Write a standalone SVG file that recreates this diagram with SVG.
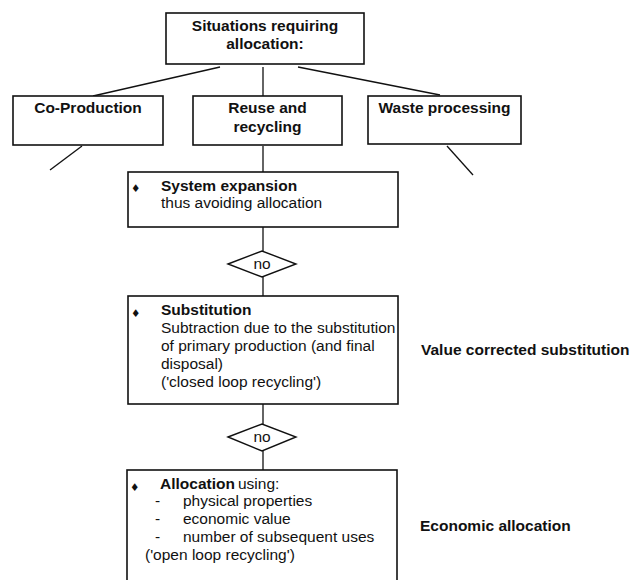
<svg xmlns="http://www.w3.org/2000/svg" width="640" height="580" viewBox="0 0 640 580">
<style>
.box{fill:#fff;stroke:#111;stroke-width:1.6}
.dia{fill:#fff;stroke:#111;stroke-width:1.4}
.con{stroke:#111;stroke-width:1.3;fill:none}
text{font-family:"Liberation Sans",Arial,sans-serif;font-size:15.5px;fill:#111}
.b{font-weight:bold}
.c{text-anchor:middle}
.bul{font-family:"DejaVu Sans",sans-serif;font-size:10.5px}
</style>
<rect width="640" height="580" fill="#fff"/>
<g id="connectors">
<line class="con" x1="220" y1="67" x2="93" y2="96"/>
<line class="con" x1="263" y1="67" x2="263" y2="96"/>
<line class="con" x1="298" y1="67" x2="440" y2="95"/>
<line class="con" x1="82" y1="146" x2="50" y2="170"/>
<line class="con" x1="263" y1="146" x2="263" y2="172"/>
<line class="con" x1="447" y1="146" x2="473" y2="175"/>
<line class="con" x1="263" y1="227" x2="263" y2="251"/>
<line class="con" x1="263" y1="277" x2="263" y2="296"/>
<line class="con" x1="263" y1="404" x2="263" y2="424"/>
<line class="con" x1="263" y1="451" x2="263" y2="470"/>
</g>
<g id="situations">
<rect class="box" x="166" y="13" width="198" height="51"/>
<text class="b c" x="265" y="31">Situations requiring</text>
<text class="b c" x="265" y="49">allocation:</text>
</g>
<g id="coproduction">
<rect class="box" x="13" y="96" width="150" height="49"/>
<text class="b c" x="88" y="113">Co-Production</text>
</g>
<g id="reuse">
<rect class="box" x="193" y="96" width="149" height="49"/>
<text class="b c" x="267.5" y="113">Reuse and</text>
<text class="b c" x="267.5" y="132">recycling</text>
</g>
<g id="waste">
<rect class="box" x="368" y="96" width="153" height="48"/>
<text class="b c" x="444.5" y="113">Waste processing</text>
</g>
<g id="system-expansion">
<rect class="box" x="128" y="172" width="270" height="55"/>
<text class="bul" x="131" y="192">♦</text>
<text class="b" x="161" y="191">System expansion</text>
<text x="161" y="208">thus avoiding allocation</text>
</g>
<g id="no1">
<polygon class="dia" points="228,264 262,251 296,264 262,277"/>
<text class="c" x="262" y="269">no</text>
</g>
<g id="substitution">
<rect class="box" x="128" y="296" width="270" height="108"/>
<text class="bul" x="131" y="317">♦</text>
<text class="b" x="161" y="315">Substitution</text>
<text x="161" y="333">Subtraction due to the substitution</text>
<text x="161" y="351">of primary production (and final</text>
<text x="161" y="369">disposal)</text>
<text x="161" y="387">('closed loop recycling')</text>
</g>
<g id="no2">
<polygon class="dia" points="228,437 262,424 296,437 262,451"/>
<text class="c" x="262" y="442">no</text>
</g>
<g id="allocation">
<rect class="box" x="127" y="470" width="270" height="130"/>
<text class="bul" x="130" y="491">♦</text>
<text class="b" x="160" y="489">Allocation</text>
<text x="238" y="489">using:</text>
<text x="155" y="506">-</text>
<text x="183" y="506">physical properties</text>
<text x="155" y="524">-</text>
<text x="183" y="524">economic value</text>
<text x="155" y="542">-</text>
<text x="183" y="542">number of subsequent uses</text>
<text x="145" y="560">('open loop recycling')</text>
</g>
<g id="value-corrected">
<text class="b" x="421" y="355">Value corrected substitution</text>
</g>
<g id="economic-allocation">
<text class="b" x="420" y="531">Economic allocation</text>
</g>
</svg>
